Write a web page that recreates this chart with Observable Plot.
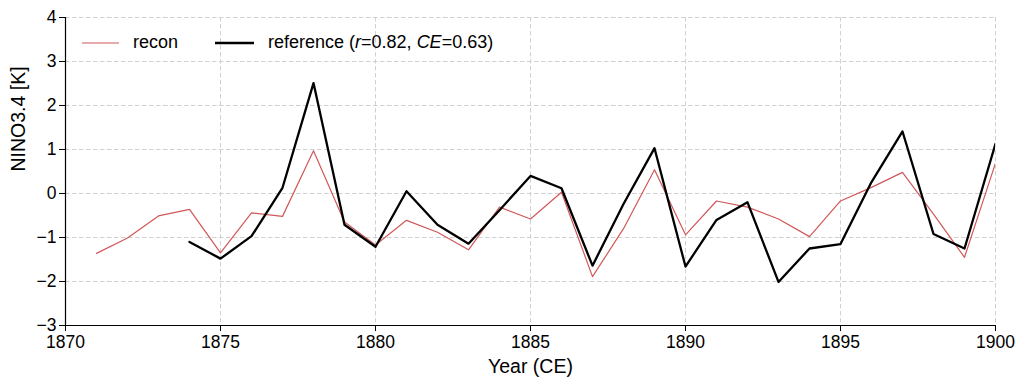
<!DOCTYPE html>
<html>
<head>
<meta charset="utf-8">
<script src="https://cdn.jsdelivr.net/npm/d3@7"></script>
<script src="https://cdn.jsdelivr.net/npm/@observablehq/plot@0.6"></script>
<style>
  html, body { margin: 0; padding: 0; background: #fff; }
  #wrap { position: relative; width: 1025px; height: 387px; font-family: "Liberation Sans", Arial, sans-serif; }
  #legend { position: absolute; left: 82px; top: 32px; font-size: 18px; color: #000; display: flex; align-items: center; white-space: nowrap; }
  #legend .item { display: flex; align-items: center; }
  #legend svg { margin-right: 14px; }
</style>
</head>
<body>
<div id="wrap"><div id="legend"></div></div>
<script>
const years = [1871,1872,1873,1874,1875,1876,1877,1878,1879,1880,1881,1882,1883,1884,1885,1886,1887,1888,1889,1890,1891,1892,1893,1894,1895,1896,1897,1898,1899,1900];
const recon = [-1.36,-1.01,-0.51,-0.36,-1.35,-0.44,-0.52,0.97,-0.65,-1.17,-0.61,-0.88,-1.28,-0.31,-0.58,0.03,-1.89,-0.80,0.54,-0.94,-0.17,-0.31,-0.58,-0.98,-0.17,0.14,0.48,-0.47,-1.45,0.69];
const refYears = [1874,1875,1876,1877,1878,1879,1880,1881,1882,1883,1884,1885,1886,1887,1888,1889,1890,1891,1892,1893,1894,1895,1896,1897,1898,1899,1900];
const reference = [-1.10,-1.48,-0.97,0.13,2.51,-0.71,-1.21,0.05,-0.71,-1.14,-0.38,0.40,0.12,-1.64,-0.24,1.03,-1.66,-0.60,-0.20,-2.01,-1.25,-1.15,0.26,1.41,-0.92,-1.25,1.13];
const xTicks = [1870,1875,1880,1885,1890,1895,1900];
const yTicks = [-3,-2,-1,0,1,2,3,4];
const xLabel = "Year (CE)";
const yLabel = "NINO3.4 [K]";
const reconData = years.map((y,i)=>({year:y, value:recon[i]}));
const refData = refYears.map((y,i)=>({year:y, value:reference[i]}));
const reconColor = "#d0585a";
const gridColor = "#d0d0d0";

const chart = Plot.plot({
  width: 1025,
  height: 387,
  marginLeft: 65,
  marginRight: 30,
  marginTop: 17,
  marginBottom: 62,
  style: { fontFamily: "Liberation Sans, Arial, sans-serif", fontSize: "17.5px", color: "#000", background: "#fff" },
  x: { domain: [1870, 1900], label: null },
  y: { domain: [-3, 4], label: null },
  marks: [
    Plot.ruleX(xTicks, { stroke: gridColor, strokeWidth: 1, strokeDasharray: "4.5,2.5", strokeOpacity: 1 }),
    Plot.ruleY(yTicks, { stroke: gridColor, strokeWidth: 1, strokeDasharray: "4.5,2.5", strokeOpacity: 1 }),
    Plot.line(reconData, { x: "year", y: "value", stroke: reconColor, strokeWidth: 1.2, clip: true }),
    Plot.line(refData, { x: "year", y: "value", stroke: "#000", strokeWidth: 2.3, clip: true }),
    Plot.ruleX([1870], { stroke: "#000", strokeWidth: 1.2 }),
    Plot.ruleY([-3], { stroke: "#000", strokeWidth: 1.2 }),
    Plot.axisX({ ticks: xTicks, tickFormat: d => String(d), tickSize: 6, tickPadding: 4, fontSize: 17.5, label: null, stroke: "#000", fill: "#000" }),
    Plot.axisY({ ticks: yTicks, tickFormat: d => (d < 0 ? "\u2212" + Math.abs(d) : String(d)), tickSize: 6, tickPadding: 3, fontSize: 17.5, label: null, stroke: "#000", fill: "#000" }),
    Plot.text([xLabel], { text: d => d, frameAnchor: "bottom", dy: 41, lineAnchor: "middle", fontSize: 19.5, fill: "#000" }),
    Plot.text([yLabel], { text: d => d, frameAnchor: "left", dx: -47, rotate: -90, lineAnchor: "middle", fontSize: 19.5, fill: "#000" })
  ]
});
document.getElementById("wrap").prepend(chart);
chart.style.position = "absolute"; chart.style.left = "0"; chart.style.top = "0";

const legend = document.getElementById("legend");
legend.innerHTML = `
  <div class="item"><svg width="37" height="4"><line x1="0" y1="2" x2="37" y2="2" stroke="${reconColor}" stroke-width="1.2"/></svg><span>recon</span></div>
  <div class="item" style="margin-left:37px"><svg width="39" height="4"><line x1="0" y1="2" x2="39" y2="2" stroke="#000" stroke-width="2.5"/></svg><span>reference (<i>r</i>=0.82, <i>CE</i>=0.63)</span></div>`;
legend.style.zIndex = 2;
</script>
</body>
</html>
